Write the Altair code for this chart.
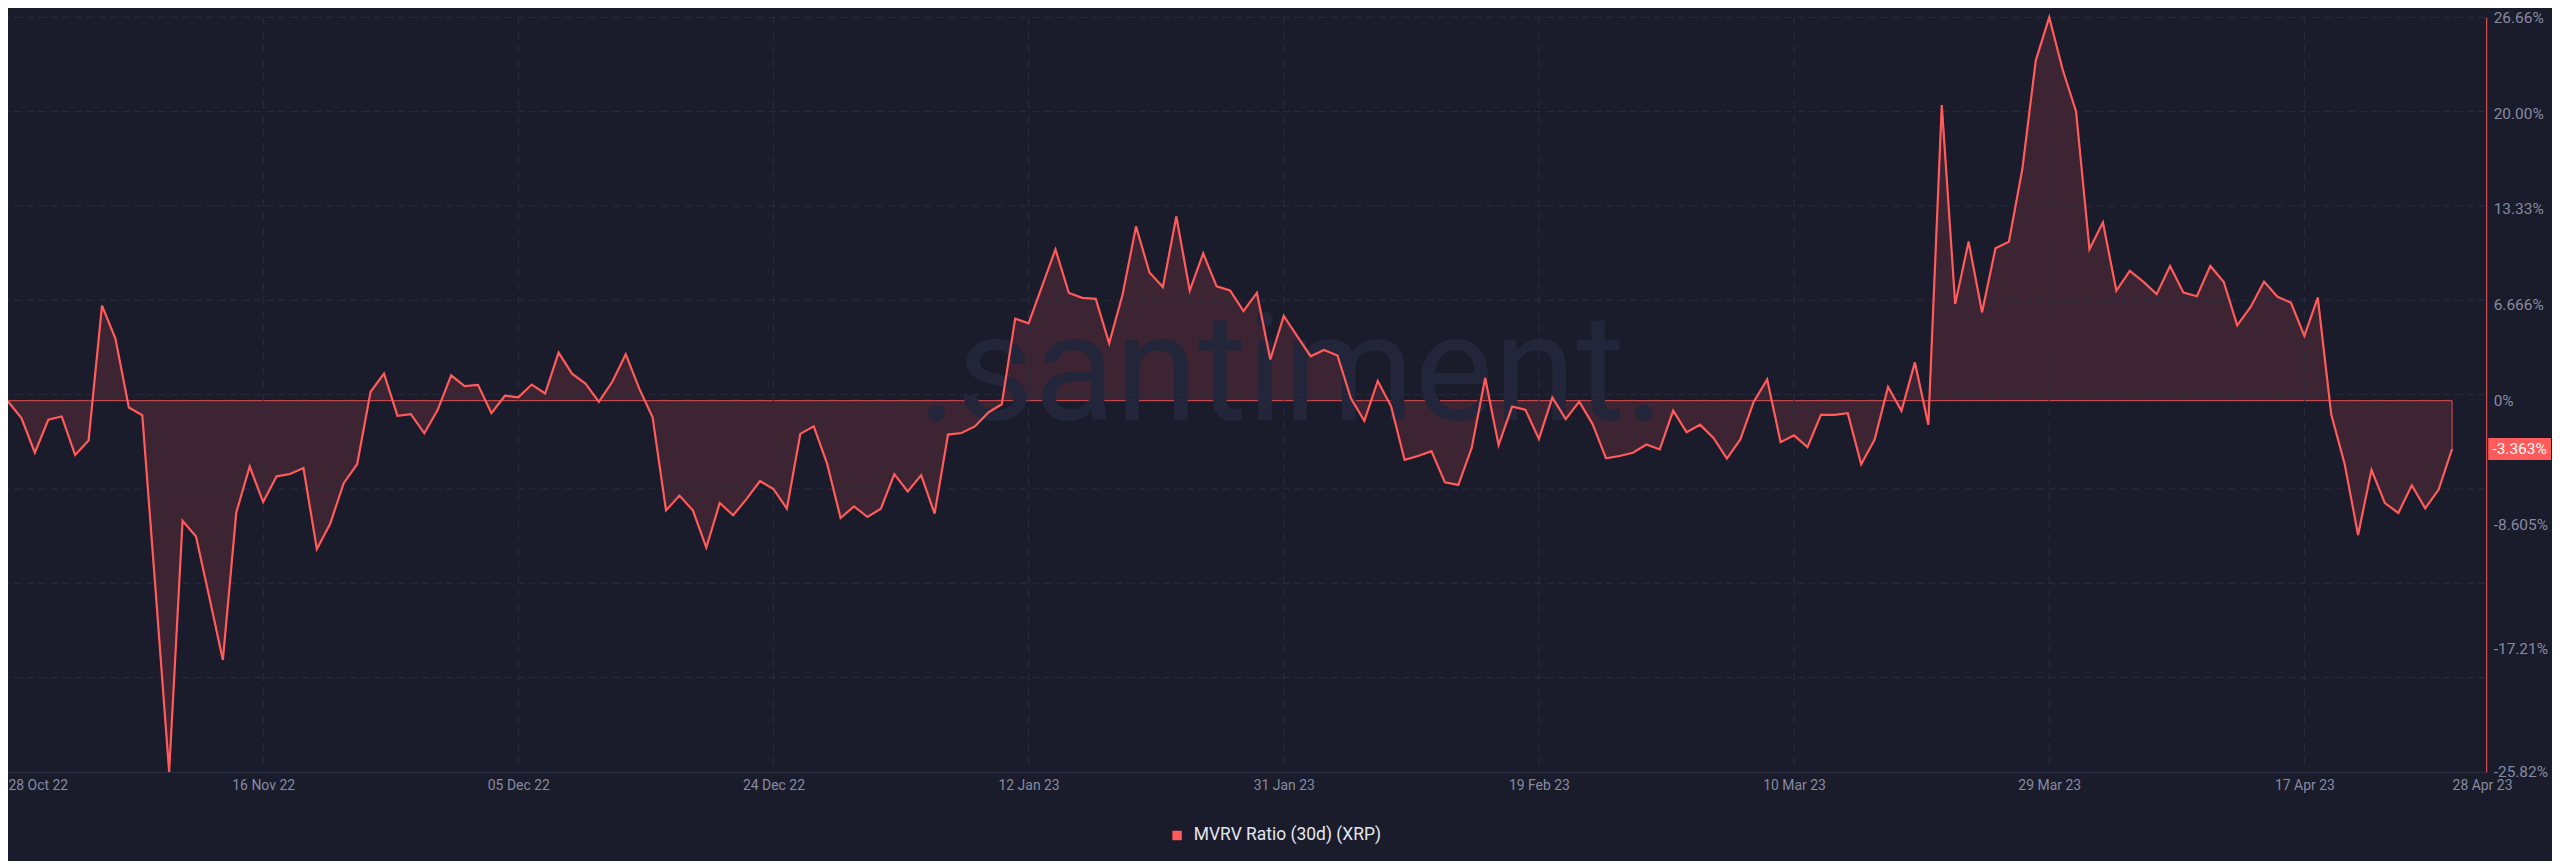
import altair as alt
import pandas as pd

# ---------------- data ----------------
start_date = "2022-10-28"
series_name = "MVRV Ratio (30d) (XRP)"
watermark_text = ".santiment."

mvrv_values = [
    -0.05, -1.21, -3.62, -1.33, -1.10, -3.78, -2.77, 6.61, 4.32, -0.48,
    -1.01, -13.3, -25.82, -8.35, -9.45, -13.7, -18.03, -7.78, -4.58, -7.05,
    -5.26, -5.10, -4.69, -10.32, -8.54, -5.74, -4.42, 0.62, 1.88, -1.05,
    -0.94, -2.27, -0.64, 1.76, 1.01, 1.10, -0.87, 0.34, 0.23, 1.12,
    0.50, 3.34, 1.88, 1.19, -0.09, 1.31, 3.23, 0.85, -1.15, -7.63,
    -6.60, -7.63, -10.22, -7.12, -7.97, -6.83, -5.59, -6.14, -7.51, -2.31,
    -1.79, -4.40, -8.16, -7.35, -8.09, -7.51, -5.11, -6.32, -5.18, -7.86,
    -2.36, -2.25, -1.79, -0.82, -0.25, 5.70, 5.38, 7.95, 10.52, 7.49,
    7.15, 7.08, 3.99, 7.38, 12.12, 8.91, 7.90, 12.81, 7.65, 10.24,
    7.95, 7.67, 6.23, 7.49, 2.86, 5.89, 4.49, 3.09, 3.53, 3.14,
    0.16, -1.40, 1.37, -0.41, -4.12, -3.85, -3.51, -5.68, -5.86, -3.28,
    1.58, -3.09, -0.41, -0.64, -2.66, 0.21, -1.28, -0.07, -1.63, -4.01,
    -3.85, -3.62, -3.05, -3.39, -0.69, -2.20, -1.67, -2.59, -4.03, -2.70,
    -0.07, 1.47, -2.89, -2.41, -3.23, -0.99, -0.99, -0.87, -4.42, -2.70,
    0.96, -0.71, 2.66, -1.68, 20.56, 6.73, 11.05, 6.15, 10.60, 11.05,
    16.11, 23.65, 26.66, 23.03, 20.11, 10.53, 12.40, 7.64, 9.02, 8.28,
    7.41, 9.37, 7.51, 7.26, 9.37, 8.25, 5.24, 6.52, 8.28, 7.22,
    6.82, 4.50, 7.17, -0.94, -4.40, -9.34, -4.82, -7.12, -7.81, -5.88,
    -7.49, -6.18, -3.363,
]

tick_dates = [
    "2022-10-28", "2022-11-16", "2022-12-05", "2022-12-24", "2023-01-12",
    "2023-01-31", "2023-02-19", "2023-03-10", "2023-03-29", "2023-04-17",
    "2023-04-28",
]
grid_dates = tick_dates[1:-1]
y_tick_values = [26.66, 20.0, 13.33, 6.666, 0, -8.605, -17.21, -25.82]

# ---------------- style ----------------
W, H = 2486, 757
PAD_TOP = 8
BG = "#1a1b2b"
RED = "#ff5b5b"
GRID = "#2a2d42"
LABEL = "#868ba1"
FONT = "Roboto"

dates = pd.date_range(start_date, periods=len(mvrv_values), freq="D").strftime("%Y-%m-%d")
df = pd.DataFrame({"date": dates, "value": mvrv_values, "series": series_name})

y_min, y_max = min(mvrv_values), max(mvrv_values)


def dt(s, hours=0):
    t = pd.Timestamp(s)
    return alt.DateTime(year=t.year, month=t.month, date=t.day, hours=hours, utc=True)


x_start = dt(start_date)
x_end = dt("2023-04-30", hours=13)

x_axis = alt.Axis(
    values=[dt(d) for d in tick_dates],
    labelExpr="utcFormat(datum.value, '%d %b %y')",
    labelAlign={
        "condition": {
            "test": "datum.value < time(datetime(2022, 9, 30)) || datum.value > time(datetime(2023, 3, 22))",
            "value": "left",
        },
        "value": "center",
    },
    ticks=False, grid=False,
    domainColor="#2b2e42", domainWidth=1.5,
    labelColor=LABEL, labelFontSize=14, labelFont=FONT, labelPadding=7,
    labelOverlap=False, title=None,
)

y_axis = alt.Axis(
    orient="right",
    values=y_tick_values,
    labelExpr="datum.value == 0 ? '0%' : replace(format(datum.value, '.4r'), '\u2212', '-') + '%'",
    ticks=False, grid=False,
    domainColor=RED, domainWidth=1,
    labelColor=LABEL, labelFontSize=15.5, labelFont=FONT, labelPadding=7,
    labelOverlap=False, title=None,
)

x_main = alt.X("date:T", scale=alt.Scale(type="utc", domain=[x_start, x_end]), axis=x_axis, title=None)
y_main = alt.Y("value:Q", scale=alt.Scale(domain=[y_min, y_max], nice=False, zero=False), axis=y_axis, title=None)
x_sub = alt.X("date:T", title=None)
y_sub = alt.Y("value:Q", title=None)

# watermark
wm = alt.Chart(pd.DataFrame({"t": [watermark_text]})).mark_text(
    font=FONT, fontSize=150, color="#23263a",
    align="center", baseline="alphabetic",
).encode(text="t:N", x=alt.value(1287), y=alt.value(420 - PAD_TOP - 8))

# horizontal gridlines: 8 equal divisions of the plot height
grid_vals = [y_max - k * (y_max - y_min) / 8 for k in range(8)]
hgrid = alt.Chart(pd.DataFrame({"value": grid_vals})).mark_rule(
    color=GRID, strokeWidth=1, strokeDash=[7, 5]
).encode(y=y_sub)

vgrid = alt.Chart(pd.DataFrame({"date": grid_dates})).mark_rule(
    color=GRID, strokeWidth=1, strokeDash=[8, 6]
).encode(x=x_sub)

area = alt.Chart(df).mark_area(
    fill=RED, fillOpacity=0.15, stroke=RED, strokeWidth=1, strokeOpacity=0.85
).encode(x=x_main, y=y_main, y2=alt.datum(0))

line = alt.Chart(df).mark_line(strokeWidth=2.2).encode(
    x=x_sub,
    y=y_sub,
    color=alt.Color(
        "series:N",
        scale=alt.Scale(range=[RED]),
        legend=alt.Legend(
            orient="none", legendX=1164, legendY=812, title=None,
            symbolType="square", symbolSize=90,
            symbolFillColor=RED, symbolStrokeColor=RED, symbolStrokeWidth=0,
            labelColor="#e4e6ee", labelFontSize=17.5, labelFont=FONT, labelOffset=8,
            labelLimit=500,
        ),
    ),
)

# highlighted last-value label on the right axis
last = mvrv_values[-1]
half = 11 * (y_max - y_min) / H
hl_rect = alt.Chart(pd.DataFrame({"value": [last + half], "value2": [last - half]})).mark_rect(
    color=RED
).encode(y=y_sub, y2="value2:Q", x=alt.value(W + 2), x2=alt.value(W + 65))

hl_text = alt.Chart(pd.DataFrame({"value": [last], "label": [f"{last:.4g}%"]})).mark_text(
    color="#ffffff", fontSize=15.5, font=FONT, align="center", baseline="middle"
).encode(y=y_sub, x=alt.value(W + 33.5), text="label:N")

chart = alt.layer(area, wm, hgrid, vgrid, line, hl_rect, hl_text).properties(
    width=W, height=H,
    padding={"left": 0, "top": PAD_TOP, "right": 66, "bottom": 88},
    autosize=alt.AutoSizeParams(type="none"),
    background=BG,
).configure_view(stroke=None)

chart.save("out.html", embed_options={"renderer": "svg", "actions": False})
